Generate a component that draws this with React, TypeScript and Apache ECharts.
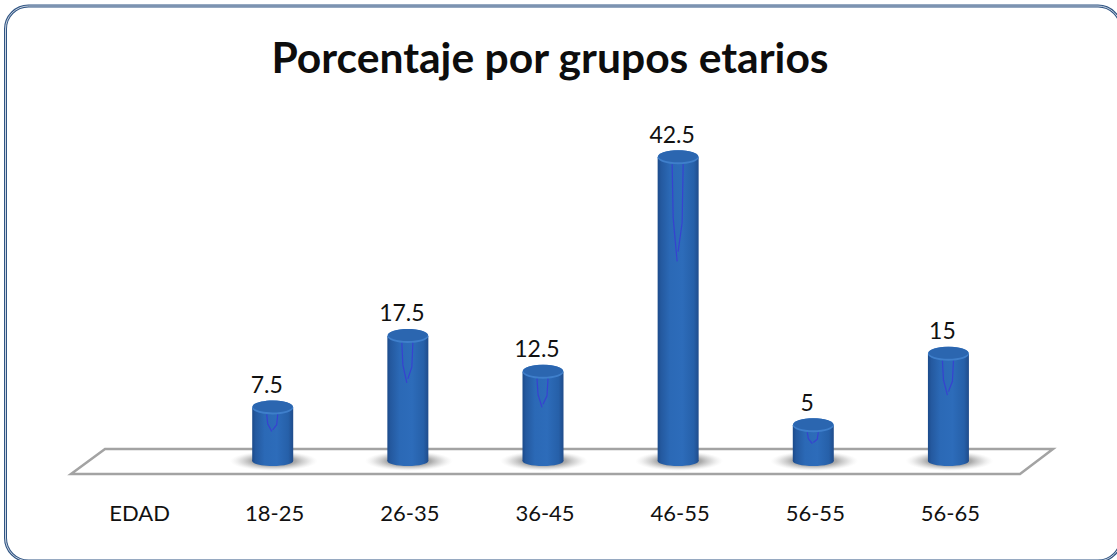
import React, { useEffect, useRef } from "react";
import * as echarts from "echarts";

const title = "Porcentaje por grupos etarios";
const categories = ["EDAD", "18-25", "26-35", "36-45", "46-55", "56-55", "56-65"];
const values: (number | null)[] = [null, 7.5, 17.5, 12.5, 42.5, 5, 15];

const FONT = "Lato";

function renderCylinder(params: any, api: any) {
  const idx = api.value(0);
  const val = api.value(1);
  if (val == null || isNaN(val)) return { type: "group", children: [] };
  const top = api.coord([idx, val]);
  const base = api.coord([idx, 0]);
  const rx = 20.5;
  const ry = 7;
  const cx = top[0];
  const h = base[1] - top[1];
  const depth = h * 0.32;
  const bodyFill = new echarts.graphic.LinearGradient(0, 0, 1, 0, [
    { offset: 0, color: "#1B4A8A" },
    { offset: 0.08, color: "#24599F" },
    { offset: 0.3, color: "#2B69B6" },
    { offset: 0.6, color: "#2D6CBA" },
    { offset: 0.88, color: "#2660A9" },
    { offset: 1, color: "#204C8B" },
  ]);
  const shadowFill = new echarts.graphic.RadialGradient(0.5, 0.5, 0.5, [
    { offset: 0, color: "rgba(130,130,130,0.95)" },
    { offset: 0.5, color: "rgba(150,150,150,0.8)" },
    { offset: 0.75, color: "rgba(185,185,185,0.45)" },
    { offset: 1, color: "rgba(225,225,225,0)" },
  ]);
  const streak = (pts: number[][]) => ({
    type: "polyline",
    shape: { points: pts },
    style: { fill: "none", stroke: "#3B34D8", lineWidth: 1.2, opacity: 0.75 },
  });
  const children: any[] = [
    {
      type: "ellipse",
      shape: { cx: cx + 1, cy: base[1], rx: 44, ry: 10 },
      style: { fill: shadowFill },
    },
    {
      type: "ellipse",
      shape: { cx, cy: base[1], rx, ry: 5 },
      style: { fill: bodyFill },
    },
    {
      type: "rect",
      shape: { x: cx - rx, y: top[1], width: rx * 2, height: h },
      style: { fill: bodyFill },
    },
    {
      type: "ellipse",
      shape: { cx, cy: top[1], rx, ry },
      style: { fill: "#3F7FCB" },
    },
    {
      type: "ellipse",
      shape: { cx, cy: top[1] - 1, rx: rx - 0.5, ry: ry - 1 },
      style: { fill: "#2B66B0" },
    },
    streak([
      [cx - 6, top[1] + 7],
      [cx - 5, top[1] + 7 + depth * 0.55],
      [cx - 1, top[1] + 7 + depth],
    ]),
    streak([
      [cx + 5, top[1] + 7],
      [cx + 4, top[1] + 7 + depth * 0.6],
      [cx, top[1] + 7 + depth * 0.9],
    ]),
    {
      type: "text",
      style: {
        text: String(val),
        x: cx - 6,
        y: top[1] - 23.5,
        fill: "#111111",
        font: `23px ${FONT}`,
        align: "center",
        verticalAlign: "middle",
      },
    },
  ];
  return { type: "group", children };
}

export default function App() {
  const ref = useRef<HTMLDivElement>(null);
  useEffect(() => {
    const chart = echarts.init(ref.current!, null, { renderer: "svg" });
    chart.setOption({
      animation: false,
      backgroundColor: "#ffffff",
      title: {
        text: title,
        left: 545,
        top: 30,
        textAlign: "center",
        textStyle: { fontFamily: FONT, fontWeight: "bold", fontSize: 42.6, color: "#0d0d0d" },
      },
      grid: { left: 70, width: 946, top: 103.5, height: 357.5 },
      xAxis: {
        type: "category",
        data: categories,
        axisLine: { show: false },
        axisTick: { show: false },
        axisLabel: {
          fontFamily: FONT,
          fontSize: 22,
          color: "#111111",
          margin: 40,
          padding: [0, 0, 0, 4],
        },
      },
      yAxis: { type: "value", min: 0, max: 50, show: false },
      graphic: [
        {
          type: "rect",
          z: 0,
          shape: { x: 5.5, y: 6, width: 1115.5, height: 555, r: 23 },
          style: { fill: "none", stroke: "#2F5483", lineWidth: 3 },
        },
        {
          type: "rect",
          z: 0,
          shape: { x: 5.5, y: 6, width: 1115.5, height: 555, r: 23 },
          style: { fill: "none", stroke: "#F2F4F7", lineWidth: 0.8 },
        },
        {
          type: "polygon",
          z: 0,
          shape: { points: [[71, 474], [1020, 474], [1053, 449], [105, 449]] },
          style: { fill: "#ffffff", stroke: "#A3A3A3", lineWidth: 2.5 },
        },
      ],
      series: [
        {
          type: "custom",
          renderItem: renderCylinder,
          encode: { x: 0, y: 1 },
          data: values.map((v, i) => [i, v]),
          z: 5,
        },
      ],
    });
    return () => chart.dispose();
  }, []);
  return <div ref={ref} style={{ position: "fixed", left: 0, top: 0, width: 1117, height: 560 }} />;
}
